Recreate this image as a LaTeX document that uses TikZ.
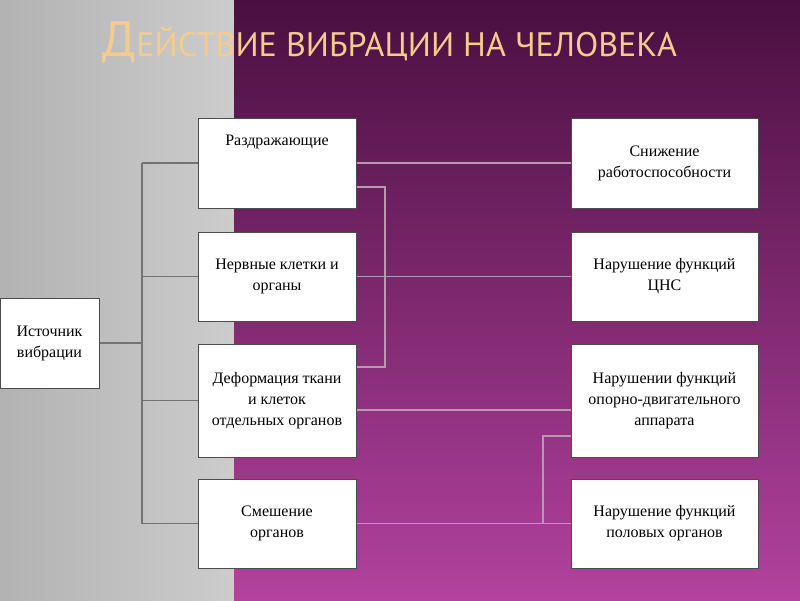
\documentclass[tikz,border=0pt]{standalone}
\usepackage{fontspec}
\setmainfont{Liberation Serif}
\newfontfamily\titlefont{PT Sans}
\usetikzlibrary{positioning}
\definecolor{plumtop}{HTML}{4A0F40}
\definecolor{plumbot}{HTML}{B2429E}
\definecolor{titlegold}{HTML}{F6CB8E}
\definecolor{wire}{HTML}{B89AB0}
\begin{document}
\begin{tikzpicture}[x=1pt,y=-1pt]
        \tikzset{boxnode/.style={draw=black!70,fill=white,line width=1pt,inner sep=2pt,
            align=center,font=\fontsize{16}{21}\selectfont},
          link/.style={draw=wire,line width=1.2pt},
          graylink/.style={draw=black!55,line width=1.2pt}}
        % background
        \useasboundingbox (0,0) rectangle (800,600);
        \shade[left color=black!30,right color=black!20] (0,0) rectangle (234,600);
        \shade[top color=plumtop,bottom color=plumbot] (234,0) rectangle (800,600);
        \node (T) at (390,42) [text=titlegold,font=\titlefont\fontsize{34}{36}\selectfont]
            {{\fontsize{50}{50}\selectfont Д}ЕЙСТВИЕ ВИБРАЦИИ НА ЧЕЛОВЕКА};
        % left side
        \node (src) at (49.5,343) [boxnode,minimum width=99,minimum height=90] {Источник\\вибрации};
        \node (irr) at (277,163) [boxnode,minimum width=158,minimum height=90] {Раздражающие\\[24pt]};
        \node (nrv) at (277,276.5) [boxnode,minimum width=158,minimum height=89] {Нервные клетки и\\органы};
        \node (def) at (277,400.5) [boxnode,minimum width=158,minimum height=113] {Деформация ткани\\и клеток\\отдельных органов};
        \node (dis) at (277,523.5) [boxnode,minimum width=158,minimum height=89] {Смешение\\органов};
        % right side
        \node (work) at (664.5,163) [boxnode,minimum width=187,minimum height=90] {Снижение\\работоспособности};
        \node (cns) at (664.5,276.5) [boxnode,minimum width=187,minimum height=89] {Нарушение функций\\ЦНС};
        \node (mot) at (664.5,400.5) [boxnode,minimum width=187,minimum height=113] {Нарушении функций\\опорно-двигательного\\аппарата};
        \node (sex) at (664.5,523.5) [boxnode,minimum width=187,minimum height=89] {Нарушение функций\\половых органов};
        % connectors
        \coordinate (bus) at (142,343);
        \draw [graylink] (src.east) -- (bus);
        \draw [graylink] (bus |- irr.west) -- (bus |- dis.west);
        \foreach \b in {irr,nrv,def,dis} \draw [graylink] (bus |- \b.west) -- (\b.west);
        \draw [link] (irr.east) -- (work.west);
        \draw [link] (nrv.east) -- (cns.west);
        \draw [link] (irr.east |- 0,187) -| (385,367) -- (def.east |- 0,367);
        \draw [link] (def.east |- 0,410) -- (mot.west |- 0,410);
        \draw [link] (dis.east) -- (sex.west);
        \draw [link] (mot.west |- 0,436) -| (543,523.5);
\end{tikzpicture}
\end{document}
